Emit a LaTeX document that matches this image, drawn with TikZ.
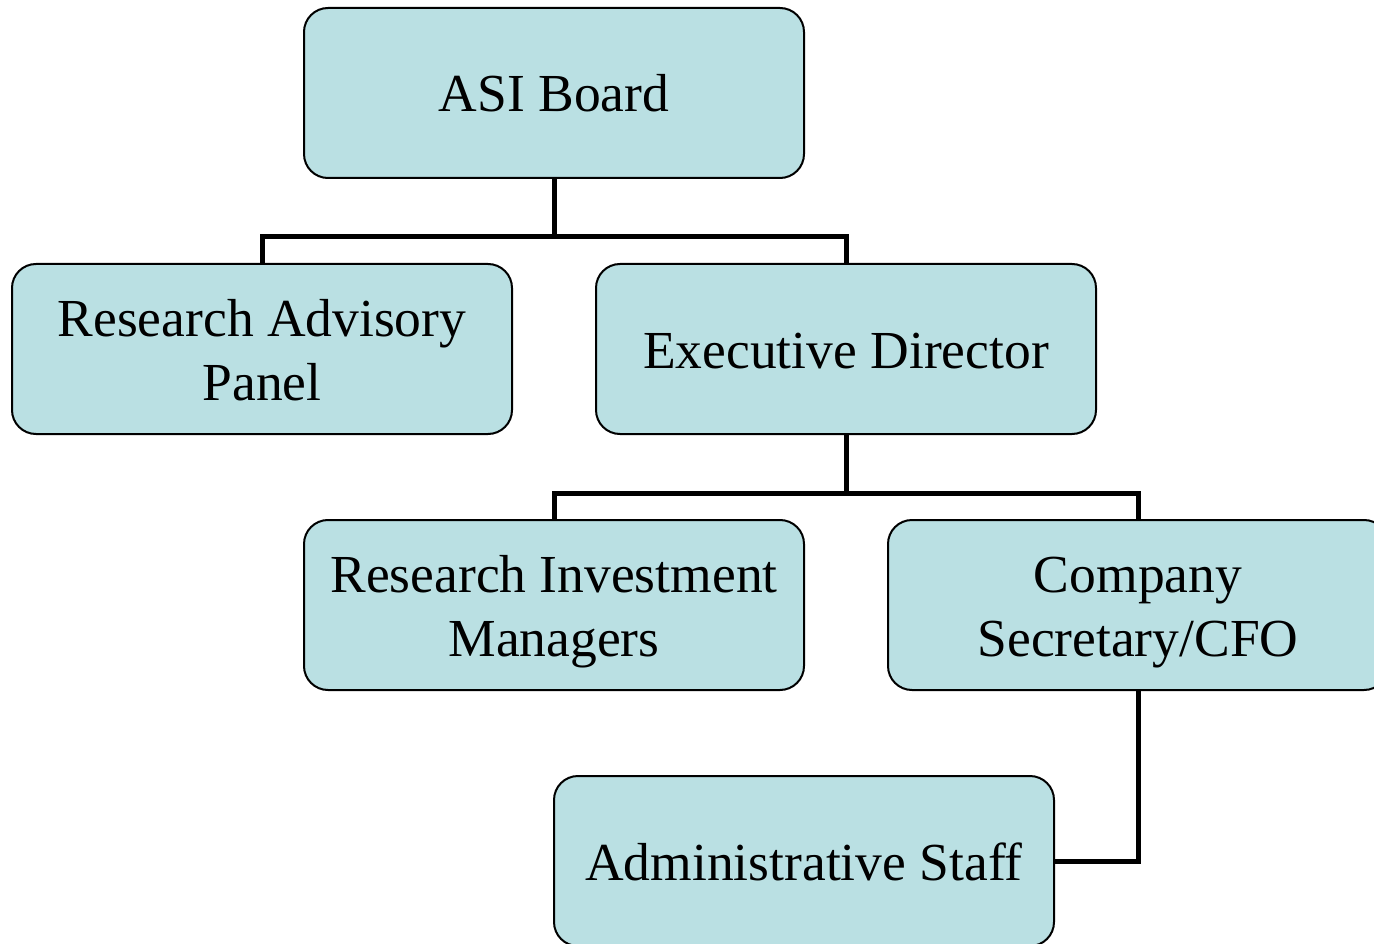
\documentclass[tikz,border=0pt]{standalone}
\usepackage{fontspec}
\setmainfont{Liberation Serif}
\newcommand{\twoline}[2]{\raisebox{13pt}[0pt][0pt]{\begin{tabular}[t]{@{}c@{}}#1\\#2\end{tabular}}}
\newcommand{\oneline}[1]{\raisebox{-19pt}[0pt][0pt]{#1}}
\begin{document}
\begin{tikzpicture}[x=1pt,y=-1pt,
  box/.style={draw=black,line width=2pt,fill=boxfill,rounded corners=24pt,
    minimum width=500pt,minimum height=170pt,align=center,
    font=\fontsize{53.5}{64}\selectfont,inner sep=0pt},
  conn/.style={line width=5pt}]
\definecolor{boxfill}{HTML}{BAE0E3}
\useasboundingbox (0,0) rectangle (1374,944);
\clip (0,0) rectangle (1374,944);
\node[box] (asi) at (554,93) {\oneline{ASI Board}};
\node[box] (rap) at (262,349) {\twoline{Research Advisory}{Panel}};
\node[box] (ed) at (846,349) {\oneline{Executive Director}};
\node[box] (rim) at (554,605) {\twoline{Research Investment}{Managers}};
\node[box] (cs) at (1138,605) {\twoline{Company}{Secretary/CFO}};
\node[box] (as) at (804,861) {\oneline{Administrative Staff}};
\coordinate (j1) at (554,237);
\coordinate (j2) at (846,493);
\draw[conn] (asi.south) -- (j1);
\draw[conn] (rap.north) |- (j1) -| (ed.north);
\draw[conn] (ed.south) -- (j2);
\draw[conn] (rim.north) |- (j2) -| (cs.north);
\draw[conn] (cs.south) |- (as.east);
\end{tikzpicture}
\end{document}
